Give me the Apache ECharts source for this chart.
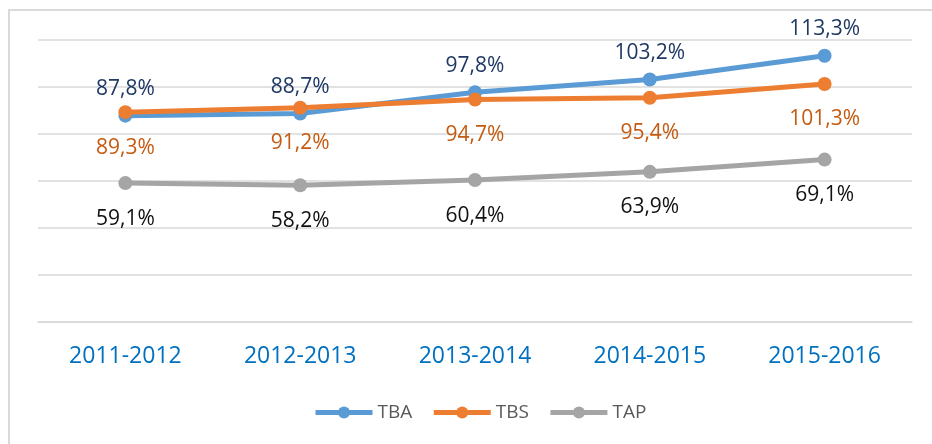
<!DOCTYPE html>
<html>
<head>
<meta charset="utf-8">
<script src="https://cdn.jsdelivr.net/npm/echarts@6/dist/echarts.min.js"></script>
<style>
html,body{margin:0;padding:0;background:#fff;}
#chart{width:932px;height:444px;}
</style>
</head>
<body>
<div id="chart"></div>
<script>
const categories = ['2011-2012', '2012-2013', '2013-2014', '2014-2015', '2015-2016'];
const tba = [87.8, 88.7, 97.8, 103.2, 113.3];
const tbs = [89.3, 91.2, 94.7, 95.4, 101.3];
const tap = [59.1, 58.2, 60.4, 63.9, 69.1];

const FONT = 'Open Sans';
const fmt = p => p.value.toFixed(1).replace('.', ',') + '%';

function mkSeries(name, data, color, labelColor, pos) {
  return {
    name: name,
    type: 'line',
    data: data,
    symbol: 'circle',
    symbolSize: 14,
    lineStyle: { width: 5, color: color },
    itemStyle: { color: color },
    label: {
      show: true,
      position: pos,
      distance: pos === 'top' ? 9 : 18,
      formatter: fmt,
      color: labelColor,
      fontFamily: FONT,
      fontSize: 21
    },
    animation: false
  };
}

const chart = echarts.init(document.getElementById('chart'));
chart.setOption({
  backgroundColor: '#fff',
  animation: false,
  graphic: [{
    type: 'rect',
    shape: { x: 9, y: 10, width: 1200, height: 1200 },
    style: { fill: 'none', stroke: '#D9D9D9', lineWidth: 2 },
    silent: true
  }],
  grid: { left: 38, right: 20, top: 40, bottom: 122 },
  legend: {
    data: ['TBA', 'TBS', 'TAP'],
    left: 313,
    top: 403,
    padding: 0,
    itemWidth: 57,
    itemHeight: 15,
    itemGap: 19,
    lineStyle: { width: 5 },
    textStyle: { color: '#595959', fontFamily: FONT, fontSize: 19 }
  },
  xAxis: {
    type: 'category',
    data: categories,
    boundaryGap: true,
    axisLine: { show: true, lineStyle: { color: '#D9D9D9', width: 1.5 } },
    axisTick: { show: false },
    axisLabel: {
      color: '#0070C0',
      fontFamily: FONT,
      fontSize: 23,
      margin: 22,
      lineHeight: 24
    }
  },
  yAxis: {
    type: 'value',
    min: 0,
    max: 120,
    interval: 20,
    axisLabel: { show: false },
    axisLine: { show: false },
    axisTick: { show: false },
    splitLine: { lineStyle: { color: '#D9D9D9', width: 1.5 } }
  },
  series: [
    mkSeries('TBA', tba, '#5B9BD5', '#1F3864', 'top'),
    mkSeries('TBS', tbs, '#ED7D31', '#C55A11', 'bottom'),
    mkSeries('TAP', tap, '#A5A5A5', '#111111', 'bottom')
  ]
});
</script>
</body>
</html>
